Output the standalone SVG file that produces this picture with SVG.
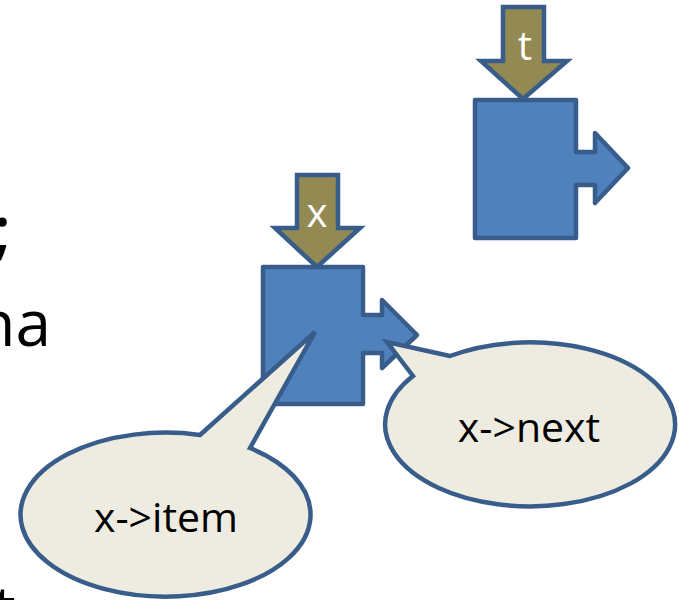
<svg xmlns="http://www.w3.org/2000/svg" width="679" height="600" viewBox="0 0 679 600">
  <style>
    .box { fill: #4F81BD; stroke: #385D8A; stroke-width: 4.5; stroke-linejoin: round; }
    .ptr { fill: #938953; stroke: #385D8A; stroke-width: 4.5; stroke-linejoin: miter; }
    .bubble { fill: #EEECE1; stroke: #385D8A; stroke-width: 4.5; stroke-linejoin: miter; }
    .lbl { font-family: "Open Sans", "Liberation Sans", sans-serif; font-size: 40px; fill: #FFFFFF; text-anchor: middle; }
    .ctext { font-family: "Open Sans", "Liberation Sans", sans-serif; font-size: 41px; fill: #000000; text-anchor: middle; }
    .slide { font-family: "Open Sans", "Liberation Sans", sans-serif; font-size: 64px; fill: #000000; }
  </style>
  <rect width="679" height="600" fill="#FFFFFF"/>

  <g id="slide-text">
    <text class="slide" x="11" y="252" text-anchor="end" font-size="74" font-weight="600">;</text>
    <text class="slide" x="51" y="346" text-anchor="end">na</text>
    <text class="slide" x="-7" y="632">t</text>
  </g>

  <g id="node-t">
    <path class="box" d="M475,100 H576 V152 H595 V133 L628,168 L595,203 V185 H576 V238 H475 Z"/>
  </g>

  <g id="node-x">
    <path class="box" d="M263,267 H363 V315 H382 V300 L417,335 L382,368 V353 H363 V404 H263 Z"/>
  </g>

  <g id="connectors">
    <g id="ptr-t">
      <polygon class="ptr" points="503,7 544,7 544,61 567,61 523,99 481,61 503,61"/>
      <text class="lbl" x="525" y="60">t</text>
    </g>
    <g id="ptr-x">
      <polygon class="ptr" points="297,175 338,175 338,228 360,228 317,267 275,228 297,228"/>
      <text class="lbl" x="317" y="227">x</text>
    </g>
  </g>

  <g id="callout-item">
    <path class="bubble" d="M200,435 L315,332 L250,448 A145,82 0 1,1 200,435 Z"/>
    <text class="ctext" x="166" y="532">x-&gt;item</text>
  </g>

  <g id="callout-next">
    <path class="bubble" d="M450,356 L387,342 L413,376 A145,82 0 1,0 450,356 Z"/>
    <text class="ctext" x="529" y="442">x-&gt;next</text>
  </g>
</svg>
